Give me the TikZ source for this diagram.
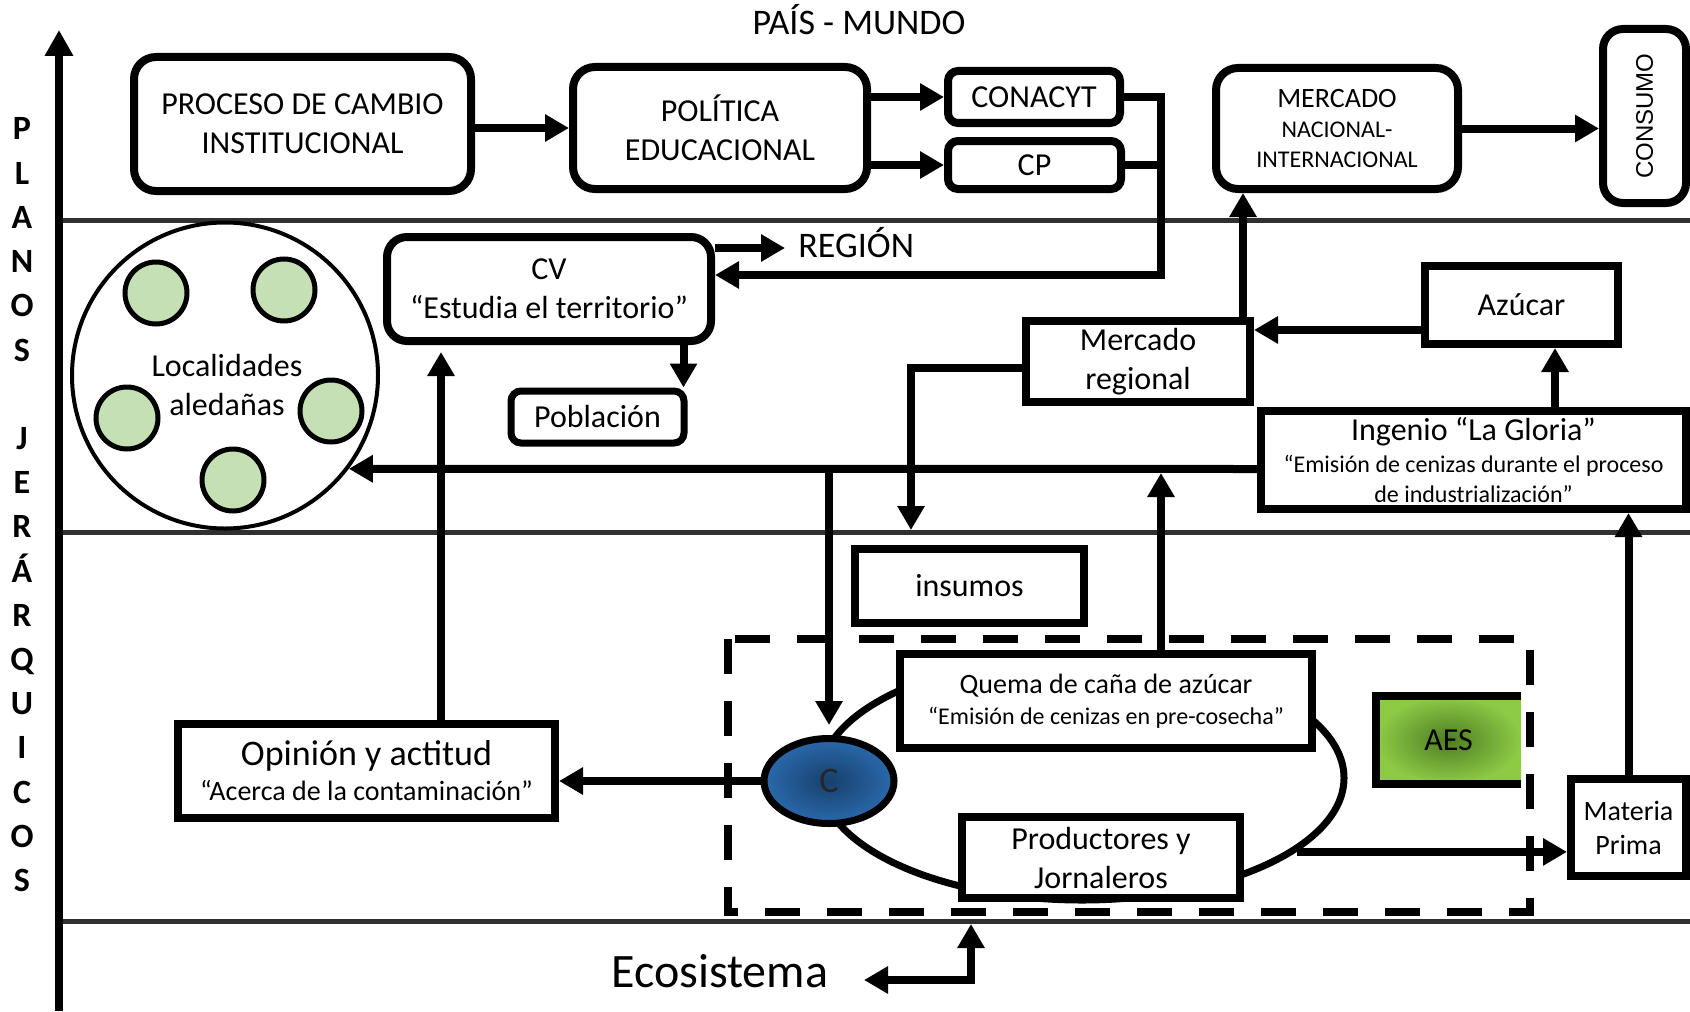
\documentclass[tikz,border=0pt]{standalone}
\usepackage{fontspec}
\setmainfont{Carlito}
\newfontfamily\arialfam{Liberation Sans}
\usepackage{graphicx}
\usetikzlibrary{arrows.meta,positioning,shapes.geometric,calc}
\definecolor{verdeLoc}{HTML}{C5E0B4}
\definecolor{azulC}{HTML}{2A69AC}
\definecolor{azulOsc}{HTML}{17406B}
\definecolor{verdeAES}{HTML}{8DCB45}
\definecolor{verdeOsc}{HTML}{4E7D24}
\definecolor{lineaNivel}{HTML}{303030}
\newcommand{\tam}[2]{\fontsize{#1}{#2}\selectfont}

\begin{document}
\begin{tikzpicture}[x=0.5pt,y=-0.5pt,>={Triangle[length=12pt,width=13pt]},
	caja/.style={draw,line width=4pt,fill=white,inner sep=2pt,align=center,font={\tam{16}{19.5}}},
	cajar/.style={caja,rounded corners=#1},
	cajar/.default=11pt,
	flecha/.style={->,line width=4pt},
	nivel/.style={line width=2.5pt,draw=lineaNivel},
	loc/.style={circle,draw,line width=2.5pt,fill=verdeLoc,minimum size=31pt,inner sep=0pt},
	letra/.style={font={\tam{17}{20}\bfseries},anchor=base,inner sep=0pt}]
	\useasboundingbox (0,0) rectangle (1690,1011);
	
	% niveles
	\foreach \yy in {220,532,921}
		\draw[nivel] (59,\yy) -- (1690,\yy);
	\draw[line width=4pt,-{Triangle[length=13pt,width=13.5pt]}] (59,1011) -- (59,30);
	\foreach \ch/\k in {P/0,L/1,A/2,N/3,O/4,S/5,J/7,E/8,R/9,Á/10,R/11,Q/12,U/13,I/14,C/15,O/16,S/17}
		\node[letra] (letra\k) at (22,{140+44.2*\k}) {\ch};
	\node[anchor=base,inner sep=0pt,font={\tam{18}{21.6}}] (pais) at (859,35) {PAÍS - MUNDO};
	\node[anchor=base west,inner sep=0pt,font={\tam{18}{21.6}}] (region) at (798,257) {REGIÓN};
	\node[anchor=base west,inner sep=0pt,font={\tam{24}{29}}] (eco) at (611,987) {Ecosistema};
	
	% pais - mundo
	\node[cajar,minimum width=168.5pt,minimum height=67pt] (proceso) at (302.5,124) {PROCESO DE CAMBIO\\INSTITUCIONAL};
	\node[cajar,minimum width=147pt,minimum height=61pt] (politica) at (720,128) {POLÍTICA\\EDUCACIONAL};
	\node[cajar=5pt,minimum width=86pt,minimum height=26pt] (conacyt) at (1034,97) {CONACYT};
	\node[cajar=5pt,minimum width=86.5pt,minimum height=24pt] (cp) at (1034.5,165) {CP};
	\node[cajar,minimum width=121pt,minimum height=60.5pt,font={\tam{12}{15}}] (mercadoni) at (1337,128.5) {\tam{14}{16}MERCADO\\NACIONAL-\\INTERNACIONAL};
	\node[cajar=10pt,minimum width=41.5pt,minimum height=87pt] (consumo) at (1644.5,116) {\rotatebox{90}{\arialfam\tam{12}{14}CONSUMO}};
	
	% region
	\node[circle,draw,line width=2pt,minimum size=153pt,inner sep=0pt] (localidades) at (225,375.5) {};
	\foreach \cx/\cy [count=\n] in {156/293,284/290,127/418,331/411,233/480}
		\node[loc] (loc\n) at (\cx,\cy) {};
	\node[align=center,font={\tam{16}{19.5}}] (loctxt) at (227,385) {Localidades\\aledañas};
	\node[cajar=10pt,minimum width=162pt,minimum height=52pt] (cv) at (549,289) {CV\\“Estudia el territorio”};
	\node[cajar=5pt,line width=3.5pt,minimum width=86.5pt,minimum height=26pt] (poblacion) at (597.5,417) {Población};
	\node[caja,minimum width=112pt,minimum height=40.5pt] (mercadoreg) at (1138,361.5) {Mercado\\regional};
	\node[caja,minimum width=96.5pt,minimum height=39pt] (azucar) at (1521.5,305) {Azúcar};
	\node[caja,minimum width=212.5pt,minimum height=49pt,font={\tam{12}{14.6}}] (ingenio) at (1473.5,460) {\tam{16}{19.5}Ingenio “La Gloria”\\[1.5pt]“Emisión de cenizas durante el proceso\\de industrialización”};
	
	% local
	\node[caja,minimum width=188.5pt,minimum height=47pt,font={\tam{14}{17.5}}] (opinion) at (366.5,771) {\tam{18}{21.6}Opinión y actitud\\“Acerca de la contaminación”};
	\node[caja,minimum width=114.5pt,minimum height=37pt] (insumos) at (969.5,586) {insumos};
	\node[ellipse,draw,line width=3.5pt,minimum width=262pt,minimum height=122pt,inner sep=0pt] (ciclo) at (1082,778) {};
	\node[caja,minimum width=206pt,minimum height=47pt,font={\tam{12}{15.5}}] (quema) at (1106,701) {\tam{14}{17}Quema de caña de azúcar\\“Emisión de cenizas en pre-cosecha”};
	\node[caja,minimum width=139pt,minimum height=40.5pt] (productores) at (1101,857.5) {Productores y\\Jornaleros};
	\node[ellipse,draw,line width=3.5pt,inner color=azulOsc,outer color=azulC,minimum width=65pt,minimum height=42.5pt,inner sep=0pt,text=black!85,font={\tam{18}{21}}] (cnode) at (829,781) {C};
	\node[inner color=verdeOsc,outer color=verdeAES,minimum width=72.5pt,minimum height=44pt,inner sep=0pt,outer sep=0pt,font={\tam{16}{19.5}}] (aes) at (1448.5,740) {AES};
	\draw[line width=4pt] (aes.north east) -- (aes.north west) -- (aes.south west) -- (aes.south east);
	\node[caja,minimum width=57.5pt,minimum height=48.5pt,font={\tam{14}{17}}] (materia) at (1628.5,827.5) {Materia\\Prima};
	\draw[line width=4pt,dash pattern=on 17.5pt off 13.5pt] (728,639) rectangle (1530,912);
	
	% conexiones
	\coordinate (codo) at (1161,275);
	\coordinate (regtip) at (785,248);
	\coordinate (subida) at ([xshift=-5.5pt]mercadoreg.north east);
	\coordinate (azin) at ([yshift=-12.5pt]azucar.west);
	\coordinate (azsub) at ([xshift=16.75pt]azucar.south);
	\coordinate (eje) at ([yshift=-4.5pt]ingenio.west);
	\coordinate (qsub) at ([xshift=132.5pt]quema.north west);
	\coordinate (opsub) at ([xshift=29pt]cv.south west);
	\coordinate (pobin) at ([xshift=-2pt]poblacion.north east);
	\coordinate (insin) at ([xshift=30pt]insumos.north west);
	\coordinate (ecoA) at (864,980);
	\coordinate (ecoB) at (971,924);
	
	\draw[flecha] (politica.west -| proceso.east) -- (politica.west);
	\draw[flecha] (conacyt.west -| politica.east) -- (conacyt.west);
	\draw[flecha] (cp.west -| politica.east) -- (cp.west);
	\draw[flecha] (conacyt.east) -| (codo) -- (codo -| cv.east);
	\draw[line width=4pt] (cp.east) -- (cp.east -| codo);
	\draw[flecha] (cv.east |- regtip) -- (regtip);
	\draw[flecha] (mercadoni.east) -- (mercadoni.east -| consumo.west);
	\draw[flecha] (subida) -- (subida |- mercadoni.south);
	\draw[flecha] (azin) -- (azin -| mercadoreg.east);
	\draw[flecha] (azsub |- ingenio.north) -- (azsub);
	\draw[flecha] (eje) -- (localidades.-37.4);
	\draw[flecha,shorten >=5pt] (eje -| cnode.north) -- (cnode.north);
	\draw[flecha,shorten >=2pt] (qsub) -- (qsub |- eje);
	\draw[flecha,shorten >=3.5pt] (opsub |- opinion.north) -- (opsub);
	\draw[flecha] (pobin |- cv.south) -- (pobin);
	\draw[flecha,shorten >=7.5pt] ([yshift=-3.25pt]mercadoreg.west) -| (insin);
	\draw[flecha] (materia.north) -- (materia.north |- ingenio.south);
	\draw[flecha] (cnode.west) -- (cnode.west -| opinion.east);
	\draw[flecha] (ciclo.-19) -- (ciclo.-19 -| materia.west);
	\draw[flecha,<->] (ecoA) -| (ecoB);
\end{tikzpicture}
\end{document}
